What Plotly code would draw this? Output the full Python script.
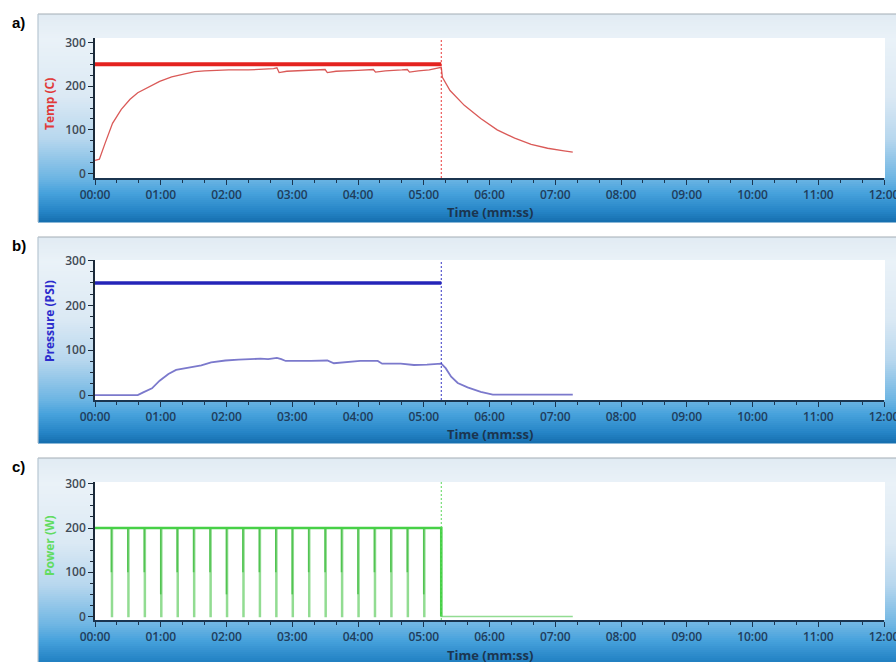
import plotly.graph_objects as go

# ---------------- data (time in seconds) ----------------
temp_t = [0, 4, 9, 16, 24, 32, 39, 48, 59, 70, 82, 91, 100, 110, 122, 140, 158,
          163, 166, 168, 175, 190, 205, 210, 212, 220, 240, 254, 256, 265, 280,
          285, 287, 295, 305, 314, 316, 317, 324, 337, 352, 367, 383, 398, 413,
          428, 436]
temp_v = [30, 33, 68, 115, 147, 170, 185, 197, 211, 221, 228, 233, 235, 236, 237,
          237, 238, 240, 242, 231, 234, 235, 237, 238, 231, 234, 236, 238, 232,
          235, 237, 238, 232, 235, 237, 241, 243, 220, 190, 156, 126, 100, 81,
          67, 58, 52, 49]
temp_setpoint = 250

press_t = [0, 39, 44, 52, 59, 67, 74, 85, 97, 106, 119, 131, 143, 151, 158, 166,
           170, 174, 197, 212, 218, 242, 258, 262, 279, 291, 303, 316, 320, 325,
           331, 340, 352, 363, 436]
press_v = [0, 0, 6, 15, 32, 47, 56, 61, 66, 73, 77, 79, 81, 81, 80, 83, 80, 76,
           76, 77, 71, 76, 76, 70, 70, 67, 68, 70, 60, 41, 27, 17, 7, 1, 1]
press_setpoint = 250

power_on = 200
power_off = 0
dip_t = [15, 30, 45, 60, 75, 90, 105, 120, 135, 150, 165, 180, 195, 210, 225,
         240, 255, 270, 285, 300]
dip_mid = [100, 100, 100, 50, 100, 100, 100, 50, 100, 100, 100, 50, 100, 100,
           100, 50, 100, 100, 100, 50]

stop_t = 316          # heating stopped
end_t = 436           # end of log

tick_vals = [0, 60, 120, 180, 240, 300, 360, 420, 480, 540, 600, 660, 720]
tick_text = ["00:00", "01:00", "02:00", "03:00", "04:00", "05:00", "06:00",
             "07:00", "08:00", "09:00", "10:00", "11:00", "12:00"]

# ---------------- page geometry (pixels) ----------------
W, H = 896, 662
X0, X1 = 95, 884                      # plot area left / right
panels = [
    # box top, box bottom, plot top, plot bottom, y range
    dict(box=(14, 222), plot=(38, 178), yr=[-10, 310]),
    dict(box=(237, 443), plot=(260, 400), yr=[-11, 301]),
    dict(box=(458, 670), plot=(482, 620), yr=[-8, 304]),
]


def py(px):
    return 1 - px / H


def px_x(px):
    return px / W


def hex2rgb(h):
    h = h.lstrip("#")
    return [int(h[i:i + 2], 16) for i in (0, 2, 4)]


grad_stops = [
    (0.00, "#e1ebf3"), (0.12, "#eaf2f8"), (0.40, "#dbe9f4"),
    (0.60, "#b7d7ee"), (0.79, "#6db5e3"), (0.86, "#47a2dc"),
    (0.95, "#2584c6"), (1.00, "#166eae"),
]


def grad_color(f):
    for (f0, c0), (f1, c1) in zip(grad_stops[:-1], grad_stops[1:]):
        if f0 <= f <= f1:
            a = (f - f0) / (f1 - f0) if f1 > f0 else 0
            r0, r1 = hex2rgb(c0), hex2rgb(c1)
            c = [round(r0[i] + (r1[i] - r0[i]) * a) for i in range(3)]
            return "rgb(%d,%d,%d)" % tuple(c)
    return grad_stops[-1][1]


shapes = []
for p in panels:
    top, bot = p["box"]
    step = 2
    y = top
    while y < bot:
        y2 = min(y + step, bot)
        f = ((y + y2) / 2 - top) / (bot - top)
        shapes.append(dict(type="rect", xref="paper", yref="paper",
                           x0=px_x(38), x1=1.02, y0=py(y2 + 0.5), y1=py(y),
                           fillcolor=grad_color(f), line=dict(width=0),
                           layer="below"))
        y = y2
    # box outline (top and left edges)
    shapes.append(dict(type="line", xref="paper", yref="paper",
                       x0=px_x(38), x1=1.02, y0=py(top), y1=py(top),
                       line=dict(color="#a3adb6", width=1.2), layer="below"))
    shapes.append(dict(type="line", xref="paper", yref="paper",
                       x0=px_x(38), x1=px_x(38), y0=py(bot), y1=py(top),
                       line=dict(color="#b8c6d2", width=1.2), layer="below"))
    # white plotting area
    shapes.append(dict(type="rect", xref="paper", yref="paper",
                       x0=px_x(X0 - 2), x1=px_x(X1 + 1),
                       y0=py(p["plot"][1]), y1=py(p["plot"][0]),
                       fillcolor="white", line=dict(width=0), layer="below"))

fig = go.Figure()

# ---------------- a) temperature ----------------
fig.add_trace(go.Scatter(x=[0, stop_t], y=[temp_setpoint, temp_setpoint],
                         mode="lines", line=dict(color="#e4231f", width=4),
                         xaxis="x", yaxis="y"))
fig.add_trace(go.Scatter(x=temp_t, y=temp_v, mode="lines",
                         line=dict(color="#da5a58", width=1.3),
                         xaxis="x", yaxis="y"))

# ---------------- b) pressure ----------------
fig.add_trace(go.Scatter(x=[0, stop_t], y=[press_setpoint, press_setpoint],
                         mode="lines", line=dict(color="#2424b8", width=3.5),
                         xaxis="x2", yaxis="y2"))
fig.add_trace(go.Scatter(x=press_t, y=press_v, mode="lines",
                         line=dict(color="#7b79cc", width=1.8),
                         xaxis="x2", yaxis="y2"))

# ---------------- c) power ----------------
pw_x, pw_y = [0], [power_on]
for t in dip_t:
    pw_x += [t, t, t + 1, t + 1]
    pw_y += [power_on, power_off, power_off, power_on]
pw_x += [stop_t, stop_t, end_t]
pw_y += [power_on, power_off, power_off]
fig.add_trace(go.Scatter(x=pw_x, y=pw_y, mode="lines",
                         line=dict(color="#92dc92", width=1.4),
                         xaxis="x3", yaxis="y3"))

mid_x, mid_y = [], []
for t, m in zip(dip_t, dip_mid):
    mid_x += [t, t, None]
    mid_y += [power_on, m, None]
fig.add_trace(go.Scatter(x=mid_x, y=mid_y, mode="lines",
                         line=dict(color="#52c452", width=1.6),
                         xaxis="x3", yaxis="y3"))
fig.add_trace(go.Scatter(x=[0, stop_t, stop_t], y=[power_on, power_on, power_off],
                         mode="lines", line=dict(color="#47d047", width=2.6),
                         xaxis="x3", yaxis="y3"))

# dotted markers where heating stopped
stop_colors = ["#e83838", "#3434c4", "#5ad65a"]
for i, c in enumerate(stop_colors):
    ax = "" if i == 0 else str(i + 1)
    shapes.append(dict(type="line", xref="x" + ax, yref="y" + ax + " domain",
                       x0=stop_t, x1=stop_t, y0=0, y1=1,
                       line=dict(color=c, width=1, dash="2px,2px")))

tick_font = dict(family="Open Sans", size=12, color="#1f3d5c", weight=600)
ytick_font = dict(family="Open Sans", size=12, color="#404a55", weight=600)

layout = dict(
    width=W, height=H,
    margin=dict(l=0, r=0, t=0, b=0, autoexpand=False),
    paper_bgcolor="white", plot_bgcolor="rgba(0,0,0,0)", showlegend=False,
    shapes=shapes,
)
for i, p in enumerate(panels):
    k = "" if i == 0 else str(i + 1)
    layout["xaxis" + k] = dict(
        domain=[px_x(X0), px_x(X1)], range=[0, 720],
        anchor="y" + k, tickvals=tick_vals, ticktext=tick_text,
        ticks="outside", ticklen=5, tickwidth=1.2, tickcolor="#1b3550",
        minor=dict(dtick=20, tick0=0, ticks="outside", ticklen=3,
                   tickcolor="#1b3550", tickwidth=1),
        showline=True, linecolor="#1b3550", linewidth=2,
        showgrid=False, zeroline=False, tickfont=tick_font, fixedrange=True,
        automargin=False, ticklabeloverflow="allow",
    )
    layout["yaxis" + k] = dict(
        domain=[py(p["plot"][1]), py(p["plot"][0])], range=p["yr"],
        anchor="x" + k, tickvals=[0, 100, 200, 300],
        ticks="outside", ticklen=5, tickwidth=1.2, tickcolor="#1b2a3a",
        minor=dict(dtick=25, tick0=0, ticks="outside", ticklen=3,
                   tickcolor="#1b2a3a", tickwidth=1),
        showline=True, linecolor="#1b2a3a", linewidth=1.5,
        showgrid=False, zeroline=False, tickfont=ytick_font, fixedrange=True,
        automargin=False,
    )

annotations = []
for lab, y in zip(["a)", "b)", "c)"], [22, 245, 467]):
    annotations.append(dict(text="<b>%s</b>" % lab, x=px_x(10), y=py(y),
                            xref="paper", yref="paper", xanchor="left",
                            yanchor="middle", showarrow=False,
                            font=dict(family="Liberation Sans", size=15,
                                      color="black")))
titles = [("Temp (C)", "#e03a3a", 104), ("Pressure (PSI)", "#2b2bcc", 321),
          ("Power (W)", "#62dc62", 546)]
for txt, col, y in titles:
    annotations.append(dict(text="<b>%s</b>" % txt, x=px_x(49), y=py(y),
                            xref="paper", yref="paper", textangle=-90,
                            xanchor="center", yanchor="middle",
                            showarrow=False,
                            font=dict(family="Open Sans", size=12, color=col)))
for y in [212, 434, 655]:
    annotations.append(dict(text="<b>Time (mm:ss)</b>", x=px_x((X0 + X1) / 2),
                            y=py(y), xref="paper", yref="paper",
                            xanchor="center", yanchor="middle",
                            showarrow=False,
                            font=dict(family="Open Sans", size=13,
                                      color="#1b3550")))
layout["annotations"] = annotations

fig.update_layout(**layout)
fig.write_html("out.html")
